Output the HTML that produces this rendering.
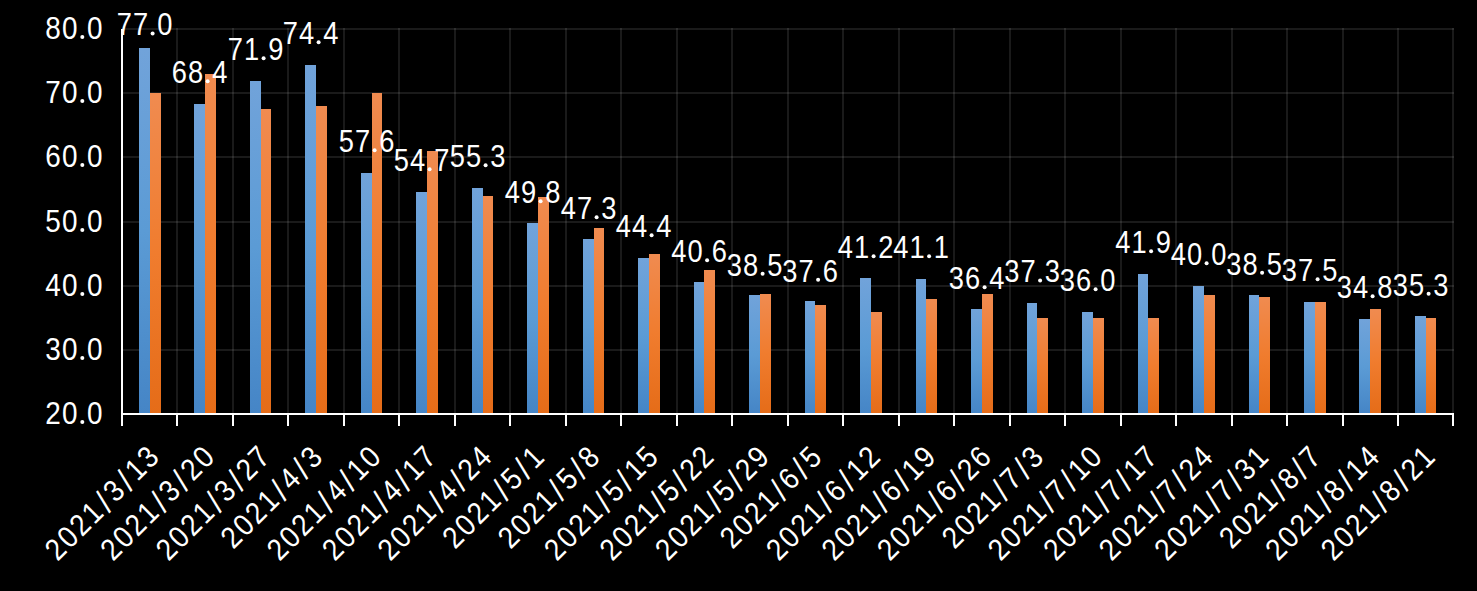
<!DOCTYPE html>
<html><head><meta charset="utf-8"><style>
html,body{margin:0;padding:0;background:#000;width:1477px;height:591px;overflow:hidden}
svg{display:block}
text{font-family:"Liberation Sans",sans-serif;fill:#fff;text-anchor:middle}
</style></head><body>
<svg width="1477" height="591" viewBox="0 0 1477 591">
<defs>
<linearGradient id="gb" x1="0" y1="0" x2="0" y2="1">
<stop offset="0" stop-color="#71a3da"/><stop offset="0.5" stop-color="#5b9bd5"/><stop offset="1" stop-color="#4585c6"/>
</linearGradient>
<linearGradient id="go" x1="0" y1="0" x2="0" y2="1">
<stop offset="0" stop-color="#f08b50"/><stop offset="0.5" stop-color="#f07c2e"/><stop offset="1" stop-color="#e56c18"/>
</linearGradient>
</defs>
<rect width="1477" height="591" fill="#000"/>

<rect x="123" y="349" width="1331" height="2" fill="rgba(255,255,255,0.1)"/>
<rect x="123" y="285" width="1331" height="2" fill="rgba(255,255,255,0.1)"/>
<rect x="123" y="221" width="1331" height="2" fill="rgba(255,255,255,0.1)"/>
<rect x="123" y="156" width="1331" height="2" fill="rgba(255,255,255,0.1)"/>
<rect x="123" y="92" width="1331" height="2" fill="rgba(255,255,255,0.1)"/>
<rect x="123" y="28" width="1331" height="2" fill="rgba(255,255,255,0.1)"/>
<rect x="176" y="28" width="2" height="385" fill="rgba(255,255,255,0.1)"/>
<rect x="232" y="28" width="2" height="385" fill="rgba(255,255,255,0.1)"/>
<rect x="287" y="28" width="2" height="385" fill="rgba(255,255,255,0.1)"/>
<rect x="343" y="28" width="2" height="385" fill="rgba(255,255,255,0.1)"/>
<rect x="398" y="28" width="2" height="385" fill="rgba(255,255,255,0.1)"/>
<rect x="454" y="28" width="2" height="385" fill="rgba(255,255,255,0.1)"/>
<rect x="509" y="28" width="2" height="385" fill="rgba(255,255,255,0.1)"/>
<rect x="565" y="28" width="2" height="385" fill="rgba(255,255,255,0.1)"/>
<rect x="620" y="28" width="2" height="385" fill="rgba(255,255,255,0.1)"/>
<rect x="676" y="28" width="2" height="385" fill="rgba(255,255,255,0.1)"/>
<rect x="731" y="28" width="2" height="385" fill="rgba(255,255,255,0.1)"/>
<rect x="787" y="28" width="2" height="385" fill="rgba(255,255,255,0.1)"/>
<rect x="842" y="28" width="2" height="385" fill="rgba(255,255,255,0.1)"/>
<rect x="898" y="28" width="2" height="385" fill="rgba(255,255,255,0.1)"/>
<rect x="953" y="28" width="2" height="385" fill="rgba(255,255,255,0.1)"/>
<rect x="1009" y="28" width="2" height="385" fill="rgba(255,255,255,0.1)"/>
<rect x="1064" y="28" width="2" height="385" fill="rgba(255,255,255,0.1)"/>
<rect x="1120" y="28" width="2" height="385" fill="rgba(255,255,255,0.1)"/>
<rect x="1175" y="28" width="2" height="385" fill="rgba(255,255,255,0.1)"/>
<rect x="1231" y="28" width="2" height="385" fill="rgba(255,255,255,0.1)"/>
<rect x="1286" y="28" width="2" height="385" fill="rgba(255,255,255,0.1)"/>
<rect x="1342" y="28" width="2" height="385" fill="rgba(255,255,255,0.1)"/>
<rect x="1397" y="28" width="2" height="385" fill="rgba(255,255,255,0.1)"/>
<rect x="1452" y="28" width="2" height="385" fill="rgba(255,255,255,0.1)"/>
<rect x="139" y="48" width="11" height="366" fill="url(#gb)"/>
<rect x="150" y="93" width="11" height="321" fill="url(#go)"/>
<rect x="194" y="104" width="11" height="310" fill="url(#gb)"/>
<rect x="205" y="74" width="11" height="340" fill="url(#go)"/>
<rect x="250" y="81" width="11" height="333" fill="url(#gb)"/>
<rect x="261" y="109" width="10" height="305" fill="url(#go)"/>
<rect x="305" y="65" width="11" height="349" fill="url(#gb)"/>
<rect x="316" y="106" width="11" height="308" fill="url(#go)"/>
<rect x="361" y="173" width="11" height="241" fill="url(#gb)"/>
<rect x="372" y="93" width="10" height="321" fill="url(#go)"/>
<rect x="416" y="192" width="11" height="222" fill="url(#gb)"/>
<rect x="427" y="151" width="11" height="263" fill="url(#go)"/>
<rect x="472" y="188" width="11" height="226" fill="url(#gb)"/>
<rect x="483" y="196" width="10" height="218" fill="url(#go)"/>
<rect x="527" y="223" width="11" height="191" fill="url(#gb)"/>
<rect x="538" y="197" width="11" height="217" fill="url(#go)"/>
<rect x="583" y="239" width="11" height="175" fill="url(#gb)"/>
<rect x="594" y="228" width="10" height="186" fill="url(#go)"/>
<rect x="638" y="258" width="11" height="156" fill="url(#gb)"/>
<rect x="649" y="254" width="11" height="160" fill="url(#go)"/>
<rect x="694" y="282" width="10" height="132" fill="url(#gb)"/>
<rect x="704" y="270" width="11" height="144" fill="url(#go)"/>
<rect x="749" y="295" width="11" height="119" fill="url(#gb)"/>
<rect x="760" y="294" width="11" height="120" fill="url(#go)"/>
<rect x="805" y="301" width="10" height="113" fill="url(#gb)"/>
<rect x="815" y="305" width="11" height="109" fill="url(#go)"/>
<rect x="860" y="278" width="11" height="136" fill="url(#gb)"/>
<rect x="871" y="312" width="11" height="102" fill="url(#go)"/>
<rect x="916" y="279" width="10" height="135" fill="url(#gb)"/>
<rect x="926" y="299" width="11" height="115" fill="url(#go)"/>
<rect x="971" y="309" width="11" height="105" fill="url(#gb)"/>
<rect x="982" y="294" width="11" height="120" fill="url(#go)"/>
<rect x="1027" y="303" width="10" height="111" fill="url(#gb)"/>
<rect x="1037" y="318" width="11" height="96" fill="url(#go)"/>
<rect x="1082" y="312" width="11" height="102" fill="url(#gb)"/>
<rect x="1093" y="318" width="11" height="96" fill="url(#go)"/>
<rect x="1138" y="274" width="10" height="140" fill="url(#gb)"/>
<rect x="1148" y="318" width="11" height="96" fill="url(#go)"/>
<rect x="1193" y="286" width="11" height="128" fill="url(#gb)"/>
<rect x="1204" y="295" width="11" height="119" fill="url(#go)"/>
<rect x="1249" y="295" width="10" height="119" fill="url(#gb)"/>
<rect x="1259" y="297" width="11" height="117" fill="url(#go)"/>
<rect x="1304" y="302" width="11" height="112" fill="url(#gb)"/>
<rect x="1315" y="302" width="11" height="112" fill="url(#go)"/>
<rect x="1359" y="319" width="11" height="95" fill="url(#gb)"/>
<rect x="1370" y="309" width="11" height="105" fill="url(#go)"/>
<rect x="1415" y="316" width="11" height="98" fill="url(#gb)"/>
<rect x="1426" y="318" width="10" height="96" fill="url(#go)"/>
<rect x="121" y="29" width="2" height="397" fill="#fff"/>
<rect x="121" y="413" width="1333" height="2" fill="#fff"/>
<rect x="176" y="413" width="2" height="13" fill="#fff"/>
<rect x="232" y="413" width="2" height="13" fill="#fff"/>
<rect x="287" y="413" width="2" height="13" fill="#fff"/>
<rect x="343" y="413" width="2" height="13" fill="#fff"/>
<rect x="398" y="413" width="2" height="13" fill="#fff"/>
<rect x="454" y="413" width="2" height="13" fill="#fff"/>
<rect x="509" y="413" width="2" height="13" fill="#fff"/>
<rect x="565" y="413" width="2" height="13" fill="#fff"/>
<rect x="620" y="413" width="2" height="13" fill="#fff"/>
<rect x="676" y="413" width="2" height="13" fill="#fff"/>
<rect x="731" y="413" width="2" height="13" fill="#fff"/>
<rect x="787" y="413" width="2" height="13" fill="#fff"/>
<rect x="842" y="413" width="2" height="13" fill="#fff"/>
<rect x="898" y="413" width="2" height="13" fill="#fff"/>
<rect x="953" y="413" width="2" height="13" fill="#fff"/>
<rect x="1009" y="413" width="2" height="13" fill="#fff"/>
<rect x="1064" y="413" width="2" height="13" fill="#fff"/>
<rect x="1120" y="413" width="2" height="13" fill="#fff"/>
<rect x="1175" y="413" width="2" height="13" fill="#fff"/>
<rect x="1231" y="413" width="2" height="13" fill="#fff"/>
<rect x="1286" y="413" width="2" height="13" fill="#fff"/>
<rect x="1342" y="413" width="2" height="13" fill="#fff"/>
<rect x="1397" y="413" width="2" height="13" fill="#fff"/>
<rect x="1452" y="413" width="2" height="13" fill="#fff"/>
<g transform="translate(103.20,423.80) scale(0.9,1)" style="font-size:31.0px"><text x="-55.72" y="0">2</text><text x="-37.13" y="0">0</text><ellipse cx="-23.21" cy="-1.9" rx="2.22" ry="2.0" fill="#fff"/><text x="-9.29" y="0">0</text></g>
<g transform="translate(103.20,359.80) scale(0.9,1)" style="font-size:31.0px"><text x="-55.72" y="0">3</text><text x="-37.13" y="0">0</text><ellipse cx="-23.21" cy="-1.9" rx="2.22" ry="2.0" fill="#fff"/><text x="-9.29" y="0">0</text></g>
<g transform="translate(103.20,295.80) scale(0.9,1)" style="font-size:31.0px"><text x="-55.72" y="0">4</text><text x="-37.13" y="0">0</text><ellipse cx="-23.21" cy="-1.9" rx="2.22" ry="2.0" fill="#fff"/><text x="-9.29" y="0">0</text></g>
<g transform="translate(103.20,231.80) scale(0.9,1)" style="font-size:31.0px"><text x="-55.72" y="0">5</text><text x="-37.13" y="0">0</text><ellipse cx="-23.21" cy="-1.9" rx="2.22" ry="2.0" fill="#fff"/><text x="-9.29" y="0">0</text></g>
<g transform="translate(103.20,166.80) scale(0.9,1)" style="font-size:31.0px"><text x="-55.72" y="0">6</text><text x="-37.13" y="0">0</text><ellipse cx="-23.21" cy="-1.9" rx="2.22" ry="2.0" fill="#fff"/><text x="-9.29" y="0">0</text></g>
<g transform="translate(103.20,102.80) scale(0.9,1)" style="font-size:31.0px"><text x="-55.72" y="0">7</text><text x="-37.13" y="0">0</text><ellipse cx="-23.21" cy="-1.9" rx="2.22" ry="2.0" fill="#fff"/><text x="-9.29" y="0">0</text></g>
<g transform="translate(103.20,38.80) scale(0.9,1)" style="font-size:31.0px"><text x="-55.72" y="0">8</text><text x="-37.13" y="0">0</text><ellipse cx="-23.21" cy="-1.9" rx="2.22" ry="2.0" fill="#fff"/><text x="-9.29" y="0">0</text></g>
<g transform="translate(144.50,35.30) scale(0.88,1)" style="font-size:31.0px"><text x="-23.02" y="0">7</text><text x="-4.59" y="0">7</text><ellipse cx="9.22" cy="-1.9" rx="2.27" ry="2.0" fill="#fff"/><text x="23.02" y="0">0</text></g>
<g transform="translate(199.50,83.10) scale(0.88,1)" style="font-size:31.0px"><text x="-23.02" y="0">6</text><text x="-4.59" y="0">8</text><ellipse cx="9.22" cy="-1.9" rx="2.27" ry="2.0" fill="#fff"/><text x="23.02" y="0">4</text></g>
<g transform="translate(255.50,60.10) scale(0.88,1)" style="font-size:31.0px"><text x="-23.02" y="0">7</text><text x="-4.59" y="0">1</text><ellipse cx="9.22" cy="-1.9" rx="2.27" ry="2.0" fill="#fff"/><text x="23.02" y="0">9</text></g>
<g transform="translate(310.50,44.10) scale(0.88,1)" style="font-size:31.0px"><text x="-23.02" y="0">7</text><text x="-4.59" y="0">4</text><ellipse cx="9.22" cy="-1.9" rx="2.27" ry="2.0" fill="#fff"/><text x="23.02" y="0">4</text></g>
<g transform="translate(366.50,152.10) scale(0.88,1)" style="font-size:31.0px"><text x="-23.02" y="0">5</text><text x="-4.59" y="0">7</text><ellipse cx="9.22" cy="-1.9" rx="2.27" ry="2.0" fill="#fff"/><text x="23.02" y="0">6</text></g>
<g transform="translate(421.50,171.10) scale(0.88,1)" style="font-size:31.0px"><text x="-23.02" y="0">5</text><text x="-4.59" y="0">4</text><ellipse cx="9.22" cy="-1.9" rx="2.27" ry="2.0" fill="#fff"/><text x="23.02" y="0">7</text></g>
<g transform="translate(477.50,167.10) scale(0.88,1)" style="font-size:31.0px"><text x="-23.02" y="0">5</text><text x="-4.59" y="0">5</text><ellipse cx="9.22" cy="-1.9" rx="2.27" ry="2.0" fill="#fff"/><text x="23.02" y="0">3</text></g>
<g transform="translate(532.50,203.10) scale(0.88,1)" style="font-size:31.0px"><text x="-23.02" y="0">4</text><text x="-4.59" y="0">9</text><ellipse cx="9.22" cy="-1.9" rx="2.27" ry="2.0" fill="#fff"/><text x="23.02" y="0">8</text></g>
<g transform="translate(588.50,219.10) scale(0.88,1)" style="font-size:31.0px"><text x="-23.02" y="0">4</text><text x="-4.59" y="0">7</text><ellipse cx="9.22" cy="-1.9" rx="2.27" ry="2.0" fill="#fff"/><text x="23.02" y="0">3</text></g>
<g transform="translate(643.50,237.10) scale(0.88,1)" style="font-size:31.0px"><text x="-23.02" y="0">4</text><text x="-4.59" y="0">4</text><ellipse cx="9.22" cy="-1.9" rx="2.27" ry="2.0" fill="#fff"/><text x="23.02" y="0">4</text></g>
<g transform="translate(699.00,262.10) scale(0.88,1)" style="font-size:31.0px"><text x="-23.02" y="0">4</text><text x="-4.59" y="0">0</text><ellipse cx="9.22" cy="-1.9" rx="2.27" ry="2.0" fill="#fff"/><text x="23.02" y="0">6</text></g>
<g transform="translate(754.50,275.60) scale(0.88,1)" style="font-size:31.0px"><text x="-23.02" y="0">3</text><text x="-4.59" y="0">8</text><ellipse cx="9.22" cy="-1.9" rx="2.27" ry="2.0" fill="#fff"/><text x="23.02" y="0">5</text></g>
<g transform="translate(810.00,281.60) scale(0.88,1)" style="font-size:31.0px"><text x="-23.02" y="0">3</text><text x="-4.59" y="0">7</text><ellipse cx="9.22" cy="-1.9" rx="2.27" ry="2.0" fill="#fff"/><text x="23.02" y="0">6</text></g>
<g transform="translate(865.50,258.10) scale(0.88,1)" style="font-size:31.0px"><text x="-23.02" y="0">4</text><text x="-4.59" y="0">1</text><ellipse cx="9.22" cy="-1.9" rx="2.27" ry="2.0" fill="#fff"/><text x="23.02" y="0">2</text></g>
<g transform="translate(921.00,258.10) scale(0.88,1)" style="font-size:31.0px"><text x="-23.02" y="0">4</text><text x="-4.59" y="0">1</text><ellipse cx="9.22" cy="-1.9" rx="2.27" ry="2.0" fill="#fff"/><text x="23.02" y="0">1</text></g>
<g transform="translate(976.50,289.10) scale(0.88,1)" style="font-size:31.0px"><text x="-23.02" y="0">3</text><text x="-4.59" y="0">6</text><ellipse cx="9.22" cy="-1.9" rx="2.27" ry="2.0" fill="#fff"/><text x="23.02" y="0">4</text></g>
<g transform="translate(1032.00,282.40) scale(0.88,1)" style="font-size:31.0px"><text x="-23.02" y="0">3</text><text x="-4.59" y="0">7</text><ellipse cx="9.22" cy="-1.9" rx="2.27" ry="2.0" fill="#fff"/><text x="23.02" y="0">3</text></g>
<g transform="translate(1087.50,291.10) scale(0.88,1)" style="font-size:31.0px"><text x="-23.02" y="0">3</text><text x="-4.59" y="0">6</text><ellipse cx="9.22" cy="-1.9" rx="2.27" ry="2.0" fill="#fff"/><text x="23.02" y="0">0</text></g>
<g transform="translate(1143.00,253.10) scale(0.88,1)" style="font-size:31.0px"><text x="-23.02" y="0">4</text><text x="-4.59" y="0">1</text><ellipse cx="9.22" cy="-1.9" rx="2.27" ry="2.0" fill="#fff"/><text x="23.02" y="0">9</text></g>
<g transform="translate(1198.50,265.10) scale(0.88,1)" style="font-size:31.0px"><text x="-23.02" y="0">4</text><text x="-4.59" y="0">0</text><ellipse cx="9.22" cy="-1.9" rx="2.27" ry="2.0" fill="#fff"/><text x="23.02" y="0">0</text></g>
<g transform="translate(1254.00,274.60) scale(0.88,1)" style="font-size:31.0px"><text x="-23.02" y="0">3</text><text x="-4.59" y="0">8</text><ellipse cx="9.22" cy="-1.9" rx="2.27" ry="2.0" fill="#fff"/><text x="23.02" y="0">5</text></g>
<g transform="translate(1309.50,281.10) scale(0.88,1)" style="font-size:31.0px"><text x="-23.02" y="0">3</text><text x="-4.59" y="0">7</text><ellipse cx="9.22" cy="-1.9" rx="2.27" ry="2.0" fill="#fff"/><text x="23.02" y="0">5</text></g>
<g transform="translate(1364.50,298.10) scale(0.88,1)" style="font-size:31.0px"><text x="-23.02" y="0">3</text><text x="-4.59" y="0">4</text><ellipse cx="9.22" cy="-1.9" rx="2.27" ry="2.0" fill="#fff"/><text x="23.02" y="0">8</text></g>
<g transform="translate(1420.50,295.60) scale(0.88,1)" style="font-size:31.0px"><text x="-23.02" y="0">3</text><text x="-4.59" y="0">5</text><ellipse cx="9.22" cy="-1.9" rx="2.27" ry="2.0" fill="#fff"/><text x="23.02" y="0">3</text></g>
<g transform="translate(161.24,458.20) rotate(-45) scale(0.9,1)" style="font-size:30.5px"><text x="-154.58" y="0">2</text><text x="-135.32" y="0">0</text><text x="-116.06" y="0">2</text><text x="-96.80" y="0">1</text><text x="-79.82" y="2.0" style="font-size:33.55px">/</text><text x="-62.84" y="0">3</text><text x="-45.87" y="2.0" style="font-size:33.55px">/</text><text x="-28.89" y="0">1</text><text x="-9.63" y="0">3</text></g>
<g transform="translate(216.72,458.20) rotate(-45) scale(0.9,1)" style="font-size:30.5px"><text x="-154.58" y="0">2</text><text x="-135.32" y="0">0</text><text x="-116.06" y="0">2</text><text x="-96.80" y="0">1</text><text x="-79.82" y="2.0" style="font-size:33.55px">/</text><text x="-62.84" y="0">3</text><text x="-45.87" y="2.0" style="font-size:33.55px">/</text><text x="-28.89" y="0">2</text><text x="-9.63" y="0">0</text></g>
<g transform="translate(272.19,458.20) rotate(-45) scale(0.9,1)" style="font-size:30.5px"><text x="-154.58" y="0">2</text><text x="-135.32" y="0">0</text><text x="-116.06" y="0">2</text><text x="-96.80" y="0">1</text><text x="-79.82" y="2.0" style="font-size:33.55px">/</text><text x="-62.84" y="0">3</text><text x="-45.87" y="2.0" style="font-size:33.55px">/</text><text x="-28.89" y="0">2</text><text x="-9.63" y="0">7</text></g>
<g transform="translate(324.67,458.50) rotate(-45) scale(0.9,1)" style="font-size:30.5px"><text x="-135.32" y="0">2</text><text x="-116.06" y="0">0</text><text x="-96.80" y="0">2</text><text x="-77.54" y="0">1</text><text x="-60.56" y="2.0" style="font-size:33.55px">/</text><text x="-43.58" y="0">4</text><text x="-26.61" y="2.0" style="font-size:33.55px">/</text><text x="-9.63" y="0">3</text></g>
<g transform="translate(383.15,458.20) rotate(-45) scale(0.9,1)" style="font-size:30.5px"><text x="-154.58" y="0">2</text><text x="-135.32" y="0">0</text><text x="-116.06" y="0">2</text><text x="-96.80" y="0">1</text><text x="-79.82" y="2.0" style="font-size:33.55px">/</text><text x="-62.84" y="0">4</text><text x="-45.87" y="2.0" style="font-size:33.55px">/</text><text x="-28.89" y="0">1</text><text x="-9.63" y="0">0</text></g>
<g transform="translate(438.63,458.20) rotate(-45) scale(0.9,1)" style="font-size:30.5px"><text x="-154.58" y="0">2</text><text x="-135.32" y="0">0</text><text x="-116.06" y="0">2</text><text x="-96.80" y="0">1</text><text x="-79.82" y="2.0" style="font-size:33.55px">/</text><text x="-62.84" y="0">4</text><text x="-45.87" y="2.0" style="font-size:33.55px">/</text><text x="-28.89" y="0">1</text><text x="-9.63" y="0">7</text></g>
<g transform="translate(494.11,458.20) rotate(-45) scale(0.9,1)" style="font-size:30.5px"><text x="-154.58" y="0">2</text><text x="-135.32" y="0">0</text><text x="-116.06" y="0">2</text><text x="-96.80" y="0">1</text><text x="-79.82" y="2.0" style="font-size:33.55px">/</text><text x="-62.84" y="0">4</text><text x="-45.87" y="2.0" style="font-size:33.55px">/</text><text x="-28.89" y="0">2</text><text x="-9.63" y="0">4</text></g>
<g transform="translate(546.59,458.50) rotate(-45) scale(0.9,1)" style="font-size:30.5px"><text x="-135.32" y="0">2</text><text x="-116.06" y="0">0</text><text x="-96.80" y="0">2</text><text x="-77.54" y="0">1</text><text x="-60.56" y="2.0" style="font-size:33.55px">/</text><text x="-43.58" y="0">5</text><text x="-26.61" y="2.0" style="font-size:33.55px">/</text><text x="-9.63" y="0">1</text></g>
<g transform="translate(602.06,458.50) rotate(-45) scale(0.9,1)" style="font-size:30.5px"><text x="-135.32" y="0">2</text><text x="-116.06" y="0">0</text><text x="-96.80" y="0">2</text><text x="-77.54" y="0">1</text><text x="-60.56" y="2.0" style="font-size:33.55px">/</text><text x="-43.58" y="0">5</text><text x="-26.61" y="2.0" style="font-size:33.55px">/</text><text x="-9.63" y="0">8</text></g>
<g transform="translate(660.54,458.20) rotate(-45) scale(0.9,1)" style="font-size:30.5px"><text x="-154.58" y="0">2</text><text x="-135.32" y="0">0</text><text x="-116.06" y="0">2</text><text x="-96.80" y="0">1</text><text x="-79.82" y="2.0" style="font-size:33.55px">/</text><text x="-62.84" y="0">5</text><text x="-45.87" y="2.0" style="font-size:33.55px">/</text><text x="-28.89" y="0">1</text><text x="-9.63" y="0">5</text></g>
<g transform="translate(716.02,458.20) rotate(-45) scale(0.9,1)" style="font-size:30.5px"><text x="-154.58" y="0">2</text><text x="-135.32" y="0">0</text><text x="-116.06" y="0">2</text><text x="-96.80" y="0">1</text><text x="-79.82" y="2.0" style="font-size:33.55px">/</text><text x="-62.84" y="0">5</text><text x="-45.87" y="2.0" style="font-size:33.55px">/</text><text x="-28.89" y="0">2</text><text x="-9.63" y="0">2</text></g>
<g transform="translate(771.50,458.20) rotate(-45) scale(0.9,1)" style="font-size:30.5px"><text x="-154.58" y="0">2</text><text x="-135.32" y="0">0</text><text x="-116.06" y="0">2</text><text x="-96.80" y="0">1</text><text x="-79.82" y="2.0" style="font-size:33.55px">/</text><text x="-62.84" y="0">5</text><text x="-45.87" y="2.0" style="font-size:33.55px">/</text><text x="-28.89" y="0">2</text><text x="-9.63" y="0">9</text></g>
<g transform="translate(823.98,458.50) rotate(-45) scale(0.9,1)" style="font-size:30.5px"><text x="-135.32" y="0">2</text><text x="-116.06" y="0">0</text><text x="-96.80" y="0">2</text><text x="-77.54" y="0">1</text><text x="-60.56" y="2.0" style="font-size:33.55px">/</text><text x="-43.58" y="0">6</text><text x="-26.61" y="2.0" style="font-size:33.55px">/</text><text x="-9.63" y="0">5</text></g>
<g transform="translate(882.45,458.20) rotate(-45) scale(0.9,1)" style="font-size:30.5px"><text x="-154.58" y="0">2</text><text x="-135.32" y="0">0</text><text x="-116.06" y="0">2</text><text x="-96.80" y="0">1</text><text x="-79.82" y="2.0" style="font-size:33.55px">/</text><text x="-62.84" y="0">6</text><text x="-45.87" y="2.0" style="font-size:33.55px">/</text><text x="-28.89" y="0">1</text><text x="-9.63" y="0">2</text></g>
<g transform="translate(937.93,458.20) rotate(-45) scale(0.9,1)" style="font-size:30.5px"><text x="-154.58" y="0">2</text><text x="-135.32" y="0">0</text><text x="-116.06" y="0">2</text><text x="-96.80" y="0">1</text><text x="-79.82" y="2.0" style="font-size:33.55px">/</text><text x="-62.84" y="0">6</text><text x="-45.87" y="2.0" style="font-size:33.55px">/</text><text x="-28.89" y="0">1</text><text x="-9.63" y="0">9</text></g>
<g transform="translate(993.41,458.20) rotate(-45) scale(0.9,1)" style="font-size:30.5px"><text x="-154.58" y="0">2</text><text x="-135.32" y="0">0</text><text x="-116.06" y="0">2</text><text x="-96.80" y="0">1</text><text x="-79.82" y="2.0" style="font-size:33.55px">/</text><text x="-62.84" y="0">6</text><text x="-45.87" y="2.0" style="font-size:33.55px">/</text><text x="-28.89" y="0">2</text><text x="-9.63" y="0">6</text></g>
<g transform="translate(1045.89,458.50) rotate(-45) scale(0.9,1)" style="font-size:30.5px"><text x="-135.32" y="0">2</text><text x="-116.06" y="0">0</text><text x="-96.80" y="0">2</text><text x="-77.54" y="0">1</text><text x="-60.56" y="2.0" style="font-size:33.55px">/</text><text x="-43.58" y="0">7</text><text x="-26.61" y="2.0" style="font-size:33.55px">/</text><text x="-9.63" y="0">3</text></g>
<g transform="translate(1104.37,458.20) rotate(-45) scale(0.9,1)" style="font-size:30.5px"><text x="-154.58" y="0">2</text><text x="-135.32" y="0">0</text><text x="-116.06" y="0">2</text><text x="-96.80" y="0">1</text><text x="-79.82" y="2.0" style="font-size:33.55px">/</text><text x="-62.84" y="0">7</text><text x="-45.87" y="2.0" style="font-size:33.55px">/</text><text x="-28.89" y="0">1</text><text x="-9.63" y="0">0</text></g>
<g transform="translate(1159.84,458.20) rotate(-45) scale(0.9,1)" style="font-size:30.5px"><text x="-154.58" y="0">2</text><text x="-135.32" y="0">0</text><text x="-116.06" y="0">2</text><text x="-96.80" y="0">1</text><text x="-79.82" y="2.0" style="font-size:33.55px">/</text><text x="-62.84" y="0">7</text><text x="-45.87" y="2.0" style="font-size:33.55px">/</text><text x="-28.89" y="0">1</text><text x="-9.63" y="0">7</text></g>
<g transform="translate(1215.32,458.20) rotate(-45) scale(0.9,1)" style="font-size:30.5px"><text x="-154.58" y="0">2</text><text x="-135.32" y="0">0</text><text x="-116.06" y="0">2</text><text x="-96.80" y="0">1</text><text x="-79.82" y="2.0" style="font-size:33.55px">/</text><text x="-62.84" y="0">7</text><text x="-45.87" y="2.0" style="font-size:33.55px">/</text><text x="-28.89" y="0">2</text><text x="-9.63" y="0">4</text></g>
<g transform="translate(1270.80,458.20) rotate(-45) scale(0.9,1)" style="font-size:30.5px"><text x="-154.58" y="0">2</text><text x="-135.32" y="0">0</text><text x="-116.06" y="0">2</text><text x="-96.80" y="0">1</text><text x="-79.82" y="2.0" style="font-size:33.55px">/</text><text x="-62.84" y="0">7</text><text x="-45.87" y="2.0" style="font-size:33.55px">/</text><text x="-28.89" y="0">3</text><text x="-9.63" y="0">1</text></g>
<g transform="translate(1323.28,458.50) rotate(-45) scale(0.9,1)" style="font-size:30.5px"><text x="-135.32" y="0">2</text><text x="-116.06" y="0">0</text><text x="-96.80" y="0">2</text><text x="-77.54" y="0">1</text><text x="-60.56" y="2.0" style="font-size:33.55px">/</text><text x="-43.58" y="0">8</text><text x="-26.61" y="2.0" style="font-size:33.55px">/</text><text x="-9.63" y="0">7</text></g>
<g transform="translate(1381.76,458.20) rotate(-45) scale(0.9,1)" style="font-size:30.5px"><text x="-154.58" y="0">2</text><text x="-135.32" y="0">0</text><text x="-116.06" y="0">2</text><text x="-96.80" y="0">1</text><text x="-79.82" y="2.0" style="font-size:33.55px">/</text><text x="-62.84" y="0">8</text><text x="-45.87" y="2.0" style="font-size:33.55px">/</text><text x="-28.89" y="0">1</text><text x="-9.63" y="0">4</text></g>
<g transform="translate(1437.23,458.20) rotate(-45) scale(0.9,1)" style="font-size:30.5px"><text x="-154.58" y="0">2</text><text x="-135.32" y="0">0</text><text x="-116.06" y="0">2</text><text x="-96.80" y="0">1</text><text x="-79.82" y="2.0" style="font-size:33.55px">/</text><text x="-62.84" y="0">8</text><text x="-45.87" y="2.0" style="font-size:33.55px">/</text><text x="-28.89" y="0">2</text><text x="-9.63" y="0">1</text></g>
</svg></body></html>
